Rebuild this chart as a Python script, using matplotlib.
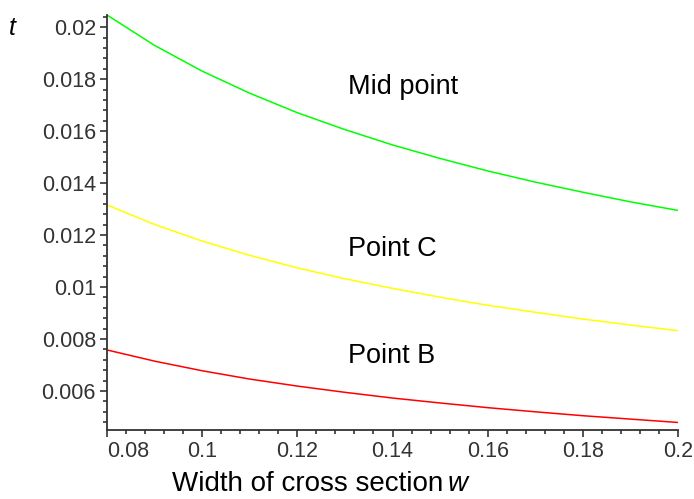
import numpy as np
import matplotlib
matplotlib.use("Agg")
import matplotlib.pyplot as plt
from matplotlib.ticker import MultipleLocator, FuncFormatter

plt.rcParams['font.family'] = ['Liberation Sans', 'DejaVu Sans']

# width of cross section w
w = [0.08, 0.09, 0.10, 0.11, 0.12, 0.13, 0.14, 0.15, 0.16, 0.17, 0.18, 0.19, 0.20]

# t values
t_mid = [0.02047, 0.01930, 0.01831, 0.01746, 0.01671, 0.01606, 0.01547,
         0.01495, 0.01447, 0.01404, 0.01365, 0.01328, 0.01295]
t_c = [0.01316, 0.01241, 0.01177, 0.01122, 0.01074, 0.01032, 0.00995,
       0.00961, 0.00930, 0.00903, 0.00877, 0.00854, 0.00832]
t_b = [0.00758, 0.00715, 0.00678, 0.00646, 0.00619, 0.00595, 0.00573,
       0.00554, 0.00536, 0.00520, 0.00505, 0.00492, 0.00479]

labels = ["Mid point", "Point C", "Point B"]
label_pos = [(0.1306, 0.01770), (0.1306, 0.01145), (0.1306, 0.00735)]

fig = plt.figure(figsize=(6.94, 4.99), dpi=100)
ax = fig.add_axes([107/694, 1 - 430/499, (678 - 107)/694, (430 - 15)/499])

ax.plot(w, t_mid, color='#00ff00', lw=1.1)
ax.plot(w, t_c, color='#ffff00', lw=1.1)
ax.plot(w, t_b, color='#ff0000', lw=1.1)

for txt, (px, py) in zip(labels, label_pos):
    ax.text(px, py, txt, fontsize=19.5, color='black', va='center', ha='left')

ax.set_xlim(0.08, 0.2)
ax.set_ylim(0.0045, 0.02047)

for s in ['top', 'right']:
    ax.spines[s].set_visible(False)
for s in ['left', 'bottom']:
    ax.spines[s].set_color('#333333')
    ax.spines[s].set_linewidth(1.3)

ax.xaxis.set_major_locator(MultipleLocator(0.02))
ax.xaxis.set_minor_locator(MultipleLocator(0.004))
ax.yaxis.set_major_locator(MultipleLocator(0.002))
ax.yaxis.set_minor_locator(MultipleLocator(0.0004))
fmt = FuncFormatter(lambda v, p: '%g' % round(v, 6))
ax.xaxis.set_major_formatter(fmt)
ax.yaxis.set_major_formatter(fmt)

ax.tick_params(which='major', direction='out', length=5, width=1.2,
               color='#333333', labelsize=15.5, labelcolor='#333333', pad=3)
ax.tick_params(which='minor', direction='out', length=3, width=1.2, color='#333333')

fig.canvas.draw()
for lab in ax.get_xticklabels():
    if lab.get_text() == '0.08':
        lab.set_horizontalalignment('left')

fig.text(172/694, 1 - 484/499, 'Width of cross section', fontsize=20,
         va='center', ha='left')
fig.text(448/694, 1 - 484/499, 'w', fontsize=20, style='italic',
         va='center', ha='left')
fig.text(9/694, 1 - 28/499, 't', fontsize=18, style='italic', va='center', ha='left')

fig.savefig('out.png', dpi=100)
